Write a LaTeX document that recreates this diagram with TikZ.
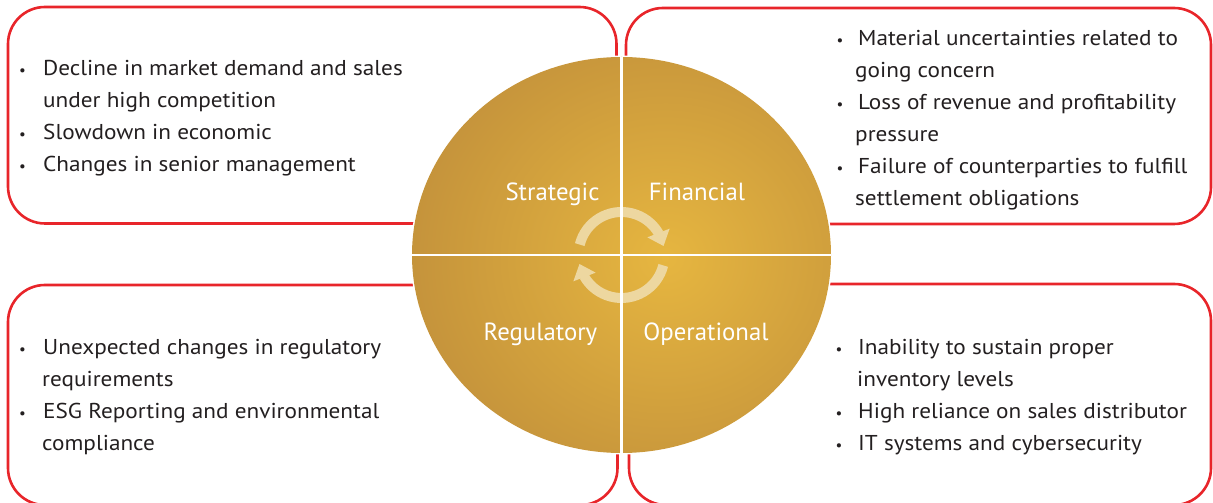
\documentclass[tikz,border=0pt]{standalone}
\usepackage{fontspec}
\setmainfont{PT Sans}
\newfontfamily\itemfont{PT Sans}[FakeStretch=1.08]
\usetikzlibrary{arrows.meta,bending}
\definecolor{riskred}{RGB}{232,37,42}
\definecolor{goldin}{RGB}{230,182,64}
\definecolor{goldout}{RGB}{187,137,58}
\definecolor{txt}{RGB}{35,31,32}
\definecolor{cream}{RGB}{237,215,160}
\begin{document}
\begin{tikzpicture}[x=1pt,y=1pt,
  box/.style={draw=riskred, line width=2.6pt, rounded corners=37pt},
  item/.style={anchor=base west, inner sep=0pt, font=\itemfont\fontsize{21.5}{26}\selectfont, text=txt},
  dot/.style={anchor=base, inner sep=0pt, font=\fontsize{15}{18}\selectfont, text=txt},
  quad/.style={anchor=base, inner sep=0pt, font=\fontsize{24.8}{28}\selectfont, text=white},
  divider/.style={white, line width=2.2pt},
  cyc/.style={cream, line width=10pt, -{Triangle[length=14pt,width=23pt,flex]}}]
\useasboundingbox (0,0) rectangle (1213,503);
% boxes
\draw[box] (8,279.5) rectangle (616.5,496);
\draw[box] (626,279) rectangle (1211,495);
\draw[box] (8,-2) rectangle (617.5,218);
\draw[box] (629,-2) rectangle (1211,219);
% circle
\fill[white] (621.5,248) ellipse [x radius=211pt, y radius=199.5pt];
\begin{scope}
  \clip (621.5,248) ellipse [x radius=209.5pt, y radius=198pt];
  \shade[inner color=goldin, outer color=goldout] (665,245) ellipse [x radius=330pt, y radius=310pt];
\end{scope}
% cycle arrows
\draw[cyc] (621.5,248) ++(166:43pt) arc[start angle=166, end angle=12, radius=43pt];
\draw[cyc] (621.5,248) ++(-14:43pt) arc[start angle=-14, end angle=-168, radius=43pt];
% dividers
\draw[divider] (412,248) -- (831,248);
\draw[divider] (621.5,50) -- (621.5,446);
% quadrant labels
\node[quad] (qs) at (552.5,302) {Strategic};
\node[quad] (qf) at (697,302) {Financial};
\node[quad] (qr) at (540.5,162) {Regulatory};
\node[quad] (qo) at (706,162) {Operational};
% top-left text
\node[dot] (tlb1) at (22.5,427.3) {•};
\node[item] (tl1) at (43,427.3) {Decline in market demand and sales};
\node[item] (tl2) at (43,395.3) {under high competition};
\node[dot] (tlb2) at (22.5,363.3) {•};
\node[item] (tl3) at (43,363.3) {Slowdown in economic};
\node[dot] (tlb3) at (22.5,331.3) {•};
\node[item] (tl4) at (43,331.3) {Changes in senior management};
% top-right text
\node[dot] (trb1) at (840,457.3) {•};
\node[item] (tr1) at (858,457.3) {Material uncertainties related to};
\node[item] (tr2) at (855,425.3) {going concern};
\node[dot] (trb2) at (840,393.3) {•};
\node[item] (tr3) at (858,393.3) {Loss of revenue and profitability};
\node[item] (tr4) at (855,361.3) {pressure};
\node[dot] (trb3) at (840,329.3) {•};
\node[item] (tr5) at (858,329.3) {Failure of counterparties to fulfill};
\node[item] (tr6) at (855,297.3) {settlement obligations};
% bottom-left text
\node[dot] (blb1) at (22.5,148.7) {•};
\node[item] (bl1) at (43,148.7) {Unexpected changes in regulatory};
\node[item] (bl2) at (42,116.7) {requirements};
\node[dot] (blb2) at (22.5,84.7) {•};
\node[item] (bl3) at (43,84.7) {ESG Reporting and environmental};
\node[item] (bl4) at (42,52.7) {compliance};
% bottom-right text
\node[dot] (brb1) at (839,148.3) {•};
\node[item] (br1) at (858,148.3) {Inability to sustain proper};
\node[item] (br2) at (857,116.3) {inventory levels};
\node[dot] (brb2) at (839,84.3) {•};
\node[item] (br3) at (858,84.3) {High reliance on sales distributor};
\node[dot] (brb3) at (839,52.3) {•};
\node[item] (br4) at (858,52.3) {IT systems and cybersecurity};
\end{tikzpicture}
\end{document}
